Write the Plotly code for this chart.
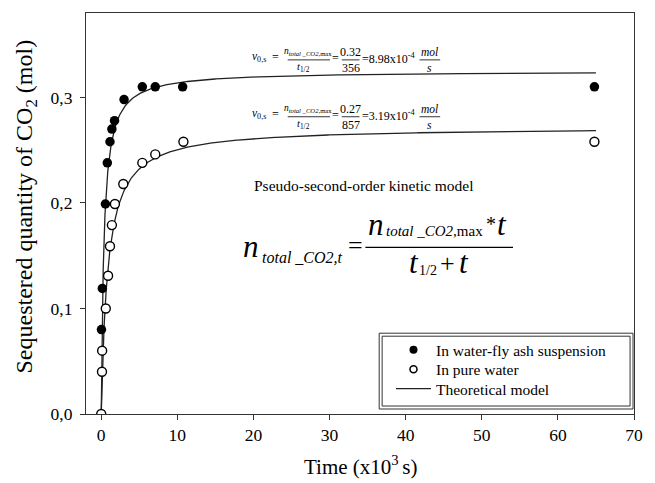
import numpy as np
import plotly.graph_objects as go

# ---------------- data (time in 10^3 s, sequestered CO2 in mol) ----------------
ash_t = [0.03, 0.15, 0.55, 0.8, 1.15, 1.4, 1.75, 3.0, 5.4, 7.1, 10.7, 64.8]
ash_n = [0.080, 0.119, 0.199, 0.238, 0.258, 0.270, 0.278, 0.298, 0.310, 0.310, 0.310, 0.310]

water_t = [0.0, 0.1, 0.12, 0.6, 0.9, 1.15, 1.4, 1.8, 2.9, 5.4, 7.1, 10.8, 64.8]
water_n = [0.0, 0.040, 0.060, 0.100, 0.131, 0.159, 0.179, 0.199, 0.218, 0.238, 0.246, 0.258, 0.258]

# pseudo-second-order model parameters (n_max in mol, t_1/2 in 10^3 s)
ash_nmax, ash_thalf = 0.325, 0.356
water_nmax, water_thalf = 0.272, 0.857

x_ticks = [0, 10, 20, 30, 40, 50, 60, 70]
y_ticks = [0.0, 0.1, 0.2, 0.3]

legend_names = ["In water-fly ash suspension", "In pure water", "Theoretical model"]

# ---------------- model curves ----------------
t_model = np.concatenate([np.linspace(0, 2, 400), np.linspace(2, 65, 400)[1:]])
ash_model = ash_nmax * t_model / (ash_thalf + t_model)
water_model = water_nmax * t_model / (water_thalf + t_model)

FONT = "Liberation Serif"
fig = go.Figure()

fig.add_trace(go.Scatter(x=t_model, y=ash_model, mode="lines",
                         line=dict(color="#222", width=1.3), showlegend=False))
fig.add_trace(go.Scatter(x=t_model, y=water_model, mode="lines",
                         line=dict(color="#222", width=1.3), showlegend=False))
fig.add_trace(go.Scatter(x=ash_t, y=ash_n, mode="markers",
                         marker=dict(color="black", size=9.5, symbol="circle"),
                         showlegend=False))
fig.add_trace(go.Scatter(x=water_t, y=water_n, mode="markers",
                         marker=dict(color="white", size=9,
                                     line=dict(color="black", width=1.4)),
                         showlegend=False))

# legend-only entries, each in its own legend box for exact spacing
fig.add_trace(go.Scatter(x=[None], y=[None], mode="markers", name=legend_names[0],
                         marker=dict(color="black", size=8), legend="legend"))
fig.add_trace(go.Scatter(x=[None], y=[None], mode="markers", name=legend_names[1],
                         marker=dict(color="white", size=7, line=dict(color="black", width=1.5)),
                         legend="legend2"))
fig.add_trace(go.Scatter(x=[None], y=[None], mode="lines", name=legend_names[2],
                         line=dict(color="#222", width=1.3), legend="legend3"))

# ---------------- pixel helpers ----------------
L, R, T, B = 86, 643, 12, 414


def px(x, y):
    return (x - L) / (R - L), (B - y) / (B - T)


annotations = []
shapes = []


def txt(text, x, y, size, xanchor="center", angle=0):
    xp, yp = px(x, y)
    annotations.append(dict(text=text, x=xp, y=yp, xref="paper", yref="paper",
                            showarrow=False, xanchor=xanchor, yanchor="middle",
                            textangle=angle,
                            font=dict(family=FONT, size=size, color="black")))


def hline(x0, x1, y, w=1.0):
    a, b = px(x0, y)
    c, _ = px(x1, y)
    shapes.append(dict(type="line", xref="paper", yref="paper", x0=a, x1=c, y0=b, y1=b,
                       line=dict(color="black", width=w)))


def rect(x0, y0, x1, y1, w=1.0):
    a, b = px(x0, y0)
    c, d = px(x1, y1)
    shapes.append(dict(type="rect", xref="paper", yref="paper", x0=a, x1=c, y0=b, y1=d,
                       line=dict(color="#333", width=w)))


# small rate equations
def rate_eq(dy, num, den, rate):
    txt("<i>v</i><sub>0,s</sub>", 253, 56 + dy, 11.5, "left")
    txt("=", 279, 56 + dy, 12)
    txt("<i>n</i><sub><i>total _CO2,</i>max</sub>", 312, 51 + dy, 9.5)
    hline(291, 334, 59 + dy, 0.8)
    txt("<i>t</i><sub>1/2</sub>", 307, 67 + dy, 10.5)
    txt("=", 340, 57 + dy, 12)
    txt(num, 355, 51 + dy, 12)
    hline(346, 364, 59 + dy, 0.8)
    txt(den, 355, 67 + dy, 12)
    txt("=" + rate + "x10<sup>-4</sup>", 364, 58 + dy, 12, "left")
    txt("<i>mol</i>", 435, 51 + dy, 11.5)
    hline(425, 446, 59 + dy, 0.8)
    txt("<i>s</i>", 435, 67 + dy, 11.5)


rate_eq(0, "0.32", "356", "8.98")
rate_eq(57, "0.27", "857", "3.19")

txt("Pseudo-second-order kinetic model", 369, 185, 15.5)

# big model equation
txt("<i>n</i>", 244, 246, 31, "left")
txt("<i>total _CO2,t</i>", 263, 257, 16, "left")
txt("=", 350, 245, 26, "left")
txt("<i>n</i>", 371, 224, 31, "left")
txt("<i>total _CO2,</i>max", 389, 231, 15, "left")
txt("*", 491, 224, 20, "left")
txt("<i>t</i>", 502, 224, 31, "left")
hline(370, 520, 247, 1.2)
txt("<i>t</i>", 412, 262, 31, "left")
txt("1/2", 422, 270, 14, "left")
txt("+", 444, 263, 26, "left")
txt("<i>t</i>", 463, 262, 31, "left")

# axis titles
txt("Sequestered quantity of CO<sub>2</sub> (mol)", 25, 206, 24, angle=-90)
txt("Time (x10<sup>3 </sup>s)", 366, 466, 21)

# legend double border
rect(384, 333, 642, 409, 1.0)
rect(387, 336, 639, 406, 1.0)

lx = px(396, 0)[0]
leg_common = dict(x=lx, xanchor="left", yanchor="middle", bgcolor="rgba(0,0,0,0)",
                  borderwidth=0, itemwidth=35,
                  font=dict(family=FONT, size=15.5, color="black"))

fig.update_layout(
    width=655, height=483,
    margin=dict(l=L, r=655 - R, t=T, b=483 - B),
    paper_bgcolor="white", plot_bgcolor="white",
    separators=", ",
    showlegend=True,
    legend=dict(y=px(0, 350)[1], **leg_common),
    legend2=dict(y=px(0, 369.5)[1], **leg_common),
    legend3=dict(y=px(0, 389)[1], **leg_common),
    annotations=annotations,
    shapes=shapes,
    xaxis=dict(range=[-2, 70], tickvals=x_ticks, ticks="outside", ticklen=5,
               tickwidth=1, tickcolor="#333", showline=True, linecolor="#333",
               linewidth=1.2, mirror=True, showgrid=False, zeroline=False,
               tickfont=dict(family=FONT, size=17.5, color="black")),
    yaxis=dict(range=[0, 0.38], tickvals=y_ticks, tickformat=".1f", ticks="outside",
               ticklen=5, tickwidth=1, tickcolor="#333", showline=True,
               linecolor="#333", linewidth=1.2, mirror=True, showgrid=False,
               zeroline=False, ticklabelstandoff=4,
               tickfont=dict(family=FONT, size=17.5, color="black")),
)

fig.write_html("out.html")
